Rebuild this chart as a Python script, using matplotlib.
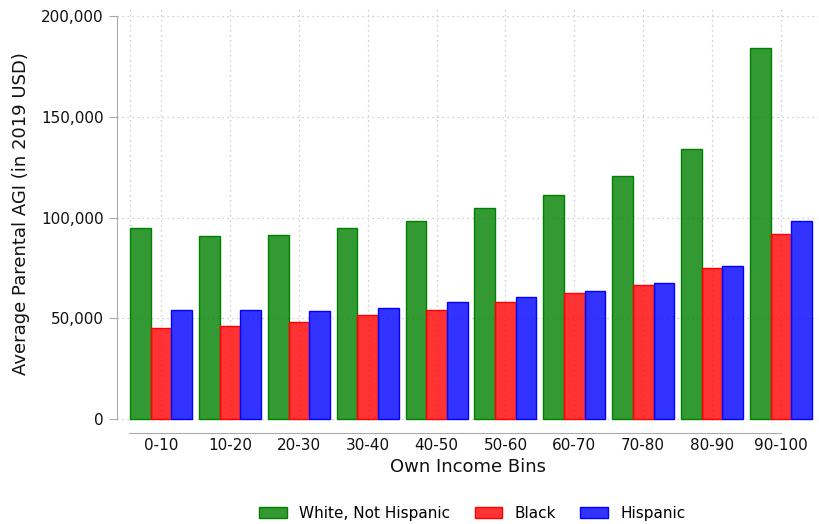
import numpy as np
import matplotlib.pyplot as plt
from matplotlib.colors import to_rgba
from matplotlib.ticker import FuncFormatter

plt.rcParams['font.family'] = 'DejaVu Sans'

# Données
bins = ['0-10', '10-20', '20-30', '30-40', '40-50',
        '50-60', '60-70', '70-80', '80-90', '90-100']
white = [94800, 90800, 91300, 94800, 98300, 104700, 111200, 120600, 134200, 184000]
black = [45200, 46200, 48100, 51600, 54100, 58100, 62500, 66500, 74900, 91600]
hispanic = [54100, 54100, 53600, 55100, 58100, 60500, 63500, 67500, 75900, 98400]

series = [('White, Not Hispanic', white, 'green'),
          ('Black', black, 'red'),
          ('Hispanic', hispanic, 'blue')]

fig = plt.figure(figsize=(8.2, 5.24), dpi=100)
ax = fig.add_axes([0.1427, 0.1966, 0.855, 0.7919])

x = np.arange(len(bins))
w = 0.3
for i, (name, vals, c) in enumerate(series):
    ax.bar(x + (i - 1) * w, vals, w, facecolor=to_rgba(c, 0.8),
           edgecolor=c, linewidth=1, label=name)

ax.set_xlim(-0.64, 9.54)
ax.set_ylim(-1000, 205000)
ax.set_xticks(x)
ax.set_xticklabels(bins)
ax.set_xticks([-0.45], minor=True)
ax.set_yticks([0, 50000, 100000, 150000, 200000])
ax.yaxis.set_major_formatter(FuncFormatter(lambda v, p: f'{int(v):,}'))

ax.grid(True, which='both', linestyle=(0, (1, 3)), color='#c0c0c0', linewidth=0.9)
ax.set_axisbelow(True)

for s in ['top', 'right']:
    ax.spines[s].set_visible(False)
ax.spines['left'].set_color('#aaaaaa')
ax.spines['bottom'].set_color('#aaaaaa')
ax.spines['left'].set_bounds(0, 200000)
ax.spines['bottom'].set_position(('outward', 9))
ax.spines['bottom'].set_bounds(-0.46, 9)
ax.tick_params(axis='y', colors='#aaaaaa', labelcolor='#111111', labelsize=11, length=6)
ax.tick_params(axis='x', which='both', length=0, labelcolor='#111111', labelsize=11, pad=3)

ax.set_xlabel('Own Income Bins', fontsize=13, color='#111111', labelpad=4)
ax.set_ylabel('Average Parental AGI (in 2019 USD)', fontsize=13, color='#111111', labelpad=8)

fig.legend(loc='lower center', bbox_to_anchor=(0.576, -0.02), ncol=3, frameon=False,
           fontsize=11, handlelength=1.8, handleheight=0.7, handletextpad=0.8,
           columnspacing=1.6)

fig.savefig('out.png', dpi=100)
